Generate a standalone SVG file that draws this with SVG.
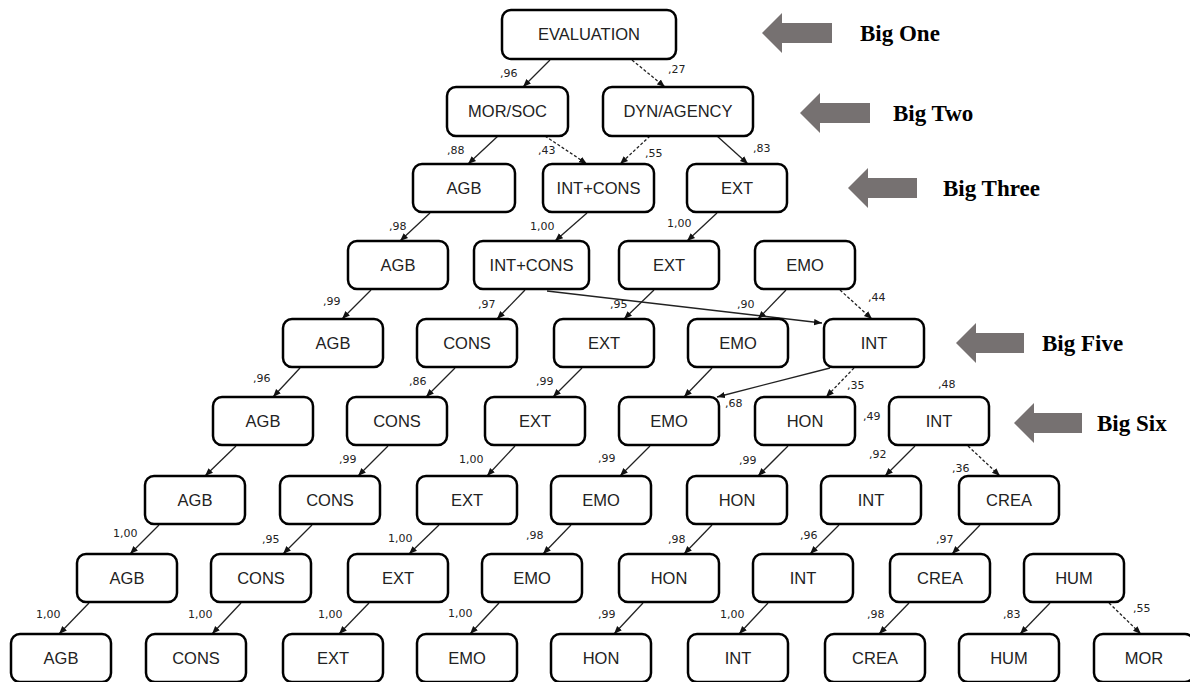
<svg xmlns="http://www.w3.org/2000/svg" width="1190" height="682" viewBox="0 0 1190 682">
<style>
.nd rect{fill:#fff;stroke:#000;stroke-width:2.5}
.nd text{font-family:"Liberation Sans",Arial,sans-serif;font-size:16.5px;fill:#222;text-anchor:middle}
.c line{stroke:#222;stroke-width:1.3;marker-end:url(#ah)}
.c line.d{stroke-dasharray:3,2}
.lb{font-family:"DejaVu Sans",Verdana,sans-serif;font-size:11px;fill:#222}
.big polygon{fill:#767171}
.big text{font-family:"Liberation Serif","Times New Roman",serif;font-weight:bold;font-size:23px;fill:#000}
</style>
<defs>
<marker id="ah" viewBox="0 0 10 10" refX="10" refY="5" markerWidth="8" markerHeight="8" markerUnits="userSpaceOnUse" orient="auto"><path d="M0,1 L10,5 L0,9 z" fill="#111"/></marker>
</defs>
<rect width="1190" height="682" fill="#fff"/>

<g class="c" id="connectors">
<line x1="550" y1="60" x2="523" y2="87"/>
<line class="d" x1="632" y1="60" x2="665" y2="87"/>
<line x1="498" y1="136" x2="468" y2="164"/>
<line class="d" x1="545" y1="136" x2="587" y2="164"/>
<line class="d" x1="650" y1="136" x2="620" y2="164"/>
<line x1="717" y1="136" x2="748" y2="164"/>
<line x1="430" y1="213" x2="400" y2="241"/>
<line x1="587" y1="213" x2="555" y2="241"/>
<line x1="717" y1="213" x2="687" y2="241"/>
<line x1="371" y1="290" x2="342" y2="319"/>
<line x1="525" y1="290" x2="497" y2="319"/>
<line x1="547" y1="291" x2="822" y2="323"/>
<line x1="654" y1="290" x2="624" y2="319"/>
<line x1="786" y1="290" x2="758" y2="319"/>
<line class="d" x1="840" y1="290" x2="872" y2="319"/>
<line x1="300" y1="368" x2="273" y2="397"/>
<line x1="455" y1="368" x2="426" y2="397"/>
<line x1="582" y1="368" x2="553" y2="397"/>
<line x1="712" y1="368" x2="684" y2="397"/>
<line x1="830" y1="368" x2="717" y2="397"/>
<line class="d" x1="854" y1="368" x2="826" y2="397"/>
<line x1="236" y1="446" x2="205" y2="476"/>
<line x1="388" y1="446" x2="358" y2="476"/>
<line x1="515" y1="446" x2="487" y2="476"/>
<line x1="650" y1="446" x2="620" y2="476"/>
<line x1="788" y1="446" x2="758" y2="476"/>
<line x1="915" y1="446" x2="885" y2="476"/>
<line class="d" x1="968" y1="446" x2="1000" y2="476"/>
<line x1="159" y1="525" x2="130" y2="554"/>
<line x1="312" y1="525" x2="283" y2="554"/>
<line x1="439" y1="525" x2="409" y2="554"/>
<line x1="571" y1="525" x2="543" y2="554"/>
<line x1="712" y1="525" x2="684" y2="554"/>
<line x1="839" y1="525" x2="810" y2="554"/>
<line x1="980" y1="525" x2="952" y2="554"/>
<line x1="89" y1="603" x2="59" y2="634"/>
<line x1="241" y1="603" x2="212" y2="634"/>
<line x1="369" y1="603" x2="339" y2="634"/>
<line x1="499" y1="603" x2="470" y2="634"/>
<line x1="643" y1="603" x2="614" y2="634"/>
<line x1="768" y1="603" x2="739" y2="634"/>
<line x1="909" y1="603" x2="879" y2="634"/>
<line x1="1050" y1="603" x2="1020" y2="634"/>
<line class="d" x1="1109" y1="603" x2="1141" y2="634"/>
</g>

<g id="labels" class="lb">
<text x="500" y="77">,96</text>
<text x="668" y="73">,27</text>
<text x="447" y="154">,88</text>
<text x="538" y="154">,43</text>
<text x="645" y="157">,55</text>
<text x="753" y="152">,83</text>
<text x="389" y="230">,98</text>
<text x="530" y="230">1,00</text>
<text x="667" y="227">1,00</text>
<text x="323" y="305">,99</text>
<text x="478" y="308">,97</text>
<text x="610" y="308">,95</text>
<text x="737" y="308">,90</text>
<text x="868" y="301">,44</text>
<text x="253" y="382">,96</text>
<text x="409" y="385">,86</text>
<text x="536" y="385">,99</text>
<text x="725" y="407">,68</text>
<text x="847" y="389">,35</text>
<text x="938" y="388">,48</text>
<text x="863" y="420">,49</text>
<text x="339" y="463">,99</text>
<text x="459" y="463">1,00</text>
<text x="598" y="462">,99</text>
<text x="739" y="464">,99</text>
<text x="869" y="458">,92</text>
<text x="952" y="472">,36</text>
<text x="113" y="537">1,00</text>
<text x="262" y="543">,95</text>
<text x="388" y="542">1,00</text>
<text x="526" y="539">,98</text>
<text x="668" y="543">,98</text>
<text x="800" y="539">,96</text>
<text x="936" y="543">,97</text>
<text x="36" y="618">1,00</text>
<text x="188" y="618">1,00</text>
<text x="318" y="618">1,00</text>
<text x="448" y="617">1,00</text>
<text x="598" y="618">,99</text>
<text x="720" y="618">1,00</text>
<text x="867" y="618">,98</text>
<text x="1003" y="618">,83</text>
<text x="1133" y="612">,55</text>
</g>

<g class="nd" id="n-evaluation"><rect x="502" y="10" width="174" height="49" rx="9"/><text x="589" y="40">EVALUATION</text></g>
<g class="nd" id="n-morsoc"><rect x="447" y="87" width="121" height="49" rx="9"/><text x="507.5" y="117">MOR/SOC</text></g>
<g class="nd" id="n-dynagency"><rect x="603" y="87" width="150" height="49" rx="9"/><text x="678" y="117">DYN/AGENCY</text></g>

<g class="nd" id="n-agb-3"><rect x="413" y="164" width="102" height="48" rx="9"/><text x="464" y="194">AGB</text></g>
<g class="nd" id="n-intcons-3"><rect x="543" y="164" width="111" height="48" rx="9"/><text x="598.5" y="194">INT+CONS</text></g>
<g class="nd" id="n-ext-3"><rect x="687" y="164" width="100" height="48" rx="9"/><text x="737" y="194">EXT</text></g>

<g class="nd" id="n-agb-4"><rect x="348" y="241" width="100" height="48" rx="9"/><text x="398" y="271">AGB</text></g>
<g class="nd" id="n-intcons-4"><rect x="474" y="241" width="115" height="48" rx="9"/><text x="531.5" y="271">INT+CONS</text></g>
<g class="nd" id="n-ext-4"><rect x="619" y="241" width="100" height="48" rx="9"/><text x="669" y="271">EXT</text></g>
<g class="nd" id="n-emo-4"><rect x="755" y="241" width="100" height="48" rx="9"/><text x="805" y="271">EMO</text></g>

<g class="nd" id="n-agb-5"><rect x="283" y="319" width="100" height="48" rx="9"/><text x="333" y="349">AGB</text></g>
<g class="nd" id="n-cons-5"><rect x="417" y="319" width="100" height="48" rx="9"/><text x="467" y="349">CONS</text></g>
<g class="nd" id="n-ext-5"><rect x="554" y="319" width="100" height="48" rx="9"/><text x="604" y="349">EXT</text></g>
<g class="nd" id="n-emo-5"><rect x="688" y="319" width="100" height="48" rx="9"/><text x="738" y="349">EMO</text></g>
<g class="nd" id="n-int-5"><rect x="824" y="319" width="100" height="48" rx="9"/><text x="874" y="349">INT</text></g>

<g class="nd" id="n-agb-6"><rect x="213" y="397" width="100" height="48" rx="9"/><text x="263" y="427">AGB</text></g>
<g class="nd" id="n-cons-6"><rect x="347" y="397" width="100" height="48" rx="9"/><text x="397" y="427">CONS</text></g>
<g class="nd" id="n-ext-6"><rect x="485" y="397" width="100" height="48" rx="9"/><text x="535" y="427">EXT</text></g>
<g class="nd" id="n-emo-6"><rect x="619" y="397" width="100" height="48" rx="9"/><text x="669" y="427">EMO</text></g>
<g class="nd" id="n-hon-6"><rect x="755" y="397" width="100" height="48" rx="9"/><text x="805" y="427">HON</text></g>
<g class="nd" id="n-int-6"><rect x="889" y="397" width="100" height="48" rx="9"/><text x="939" y="427">INT</text></g>

<g class="nd" id="n-agb-7"><rect x="145" y="476" width="100" height="48" rx="9"/><text x="195" y="506">AGB</text></g>
<g class="nd" id="n-cons-7"><rect x="280" y="476" width="100" height="48" rx="9"/><text x="330" y="506">CONS</text></g>
<g class="nd" id="n-ext-7"><rect x="417" y="476" width="100" height="48" rx="9"/><text x="467" y="506">EXT</text></g>
<g class="nd" id="n-emo-7"><rect x="551" y="476" width="100" height="48" rx="9"/><text x="601" y="506">EMO</text></g>
<g class="nd" id="n-hon-7"><rect x="687" y="476" width="100" height="48" rx="9"/><text x="737" y="506">HON</text></g>
<g class="nd" id="n-int-7"><rect x="821" y="476" width="100" height="48" rx="9"/><text x="871" y="506">INT</text></g>
<g class="nd" id="n-crea-7"><rect x="959" y="476" width="100" height="48" rx="9"/><text x="1009" y="506">CREA</text></g>

<g class="nd" id="n-agb-8"><rect x="77" y="554" width="100" height="48" rx="9"/><text x="127" y="584">AGB</text></g>
<g class="nd" id="n-cons-8"><rect x="211" y="554" width="100" height="48" rx="9"/><text x="261" y="584">CONS</text></g>
<g class="nd" id="n-ext-8"><rect x="348" y="554" width="100" height="48" rx="9"/><text x="398" y="584">EXT</text></g>
<g class="nd" id="n-emo-8"><rect x="482" y="554" width="100" height="48" rx="9"/><text x="532" y="584">EMO</text></g>
<g class="nd" id="n-hon-8"><rect x="619" y="554" width="100" height="48" rx="9"/><text x="669" y="584">HON</text></g>
<g class="nd" id="n-int-8"><rect x="753" y="554" width="100" height="48" rx="9"/><text x="803" y="584">INT</text></g>
<g class="nd" id="n-crea-8"><rect x="890" y="554" width="100" height="48" rx="9"/><text x="940" y="584">CREA</text></g>
<g class="nd" id="n-hum-8"><rect x="1024" y="554" width="100" height="48" rx="9"/><text x="1074" y="584">HUM</text></g>

<g class="nd" id="n-agb-9"><rect x="11" y="634" width="100" height="48" rx="9"/><text x="61" y="664">AGB</text></g>
<g class="nd" id="n-cons-9"><rect x="146" y="634" width="100" height="48" rx="9"/><text x="196" y="664">CONS</text></g>
<g class="nd" id="n-ext-9"><rect x="283" y="634" width="100" height="48" rx="9"/><text x="333" y="664">EXT</text></g>
<g class="nd" id="n-emo-9"><rect x="417" y="634" width="100" height="48" rx="9"/><text x="467" y="664">EMO</text></g>
<g class="nd" id="n-hon-9"><rect x="551" y="634" width="100" height="48" rx="9"/><text x="601" y="664">HON</text></g>
<g class="nd" id="n-int-9"><rect x="688" y="634" width="100" height="48" rx="9"/><text x="738" y="664">INT</text></g>
<g class="nd" id="n-crea-9"><rect x="825" y="634" width="100" height="48" rx="9"/><text x="875" y="664">CREA</text></g>
<g class="nd" id="n-hum-9"><rect x="959" y="634" width="100" height="48" rx="9"/><text x="1009" y="664">HUM</text></g>
<g class="nd" id="n-mor-9"><rect x="1094" y="634" width="100" height="48" rx="9"/><text x="1144" y="664">MOR</text></g>

<g class="big" id="big-one"><polygon points="762,33 782,13 782,23 832,23 832,43 782,43 782,53"/><text x="860" y="41">Big One</text></g>
<g class="big" id="big-two"><polygon points="800,113 820,93 820,103 870,103 870,123 820,123 820,133"/><text x="893" y="121">Big Two</text></g>
<g class="big" id="big-three"><polygon points="848,188 868,168 868,178 917,178 917,198 868,198 868,208"/><text x="943" y="196">Big Three</text></g>
<g class="big" id="big-five"><polygon points="956,343 976,323 976,333 1024,333 1024,353 976,353 976,363"/><text x="1042" y="351">Big Five</text></g>
<g class="big" id="big-six"><polygon points="1014,423 1034,403 1034,413 1082,413 1082,433 1034,433 1034,443"/><text x="1097" y="431">Big Six</text></g>
</svg>
